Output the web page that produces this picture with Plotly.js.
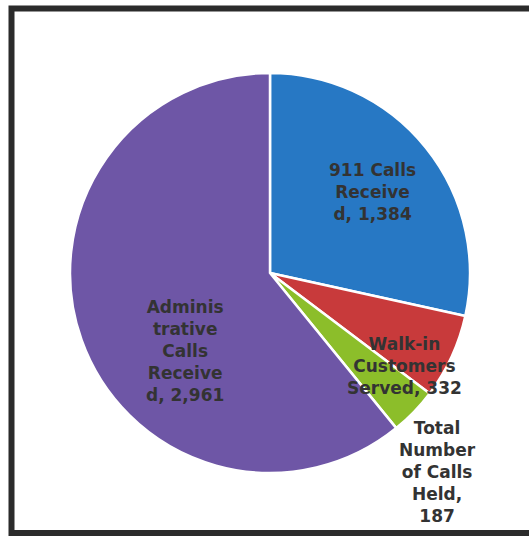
<!DOCTYPE html>
<html><head><meta charset="utf-8">
<script src="https://cdn.plot.ly/plotly-3.0.1.min.js"></script>
<style>html,body{margin:0;padding:0;background:#fff}</style>
</head><body>
<div id="chart" style="width:529px;height:537px"></div>
<script>
const categories = ["911 Calls Received", "Walk-in Customers Served", "Total Number of Calls Held", "Administrative Calls Received"];
const values = [1384, 332, 187, 2961];
const labelLines = [
  ["911 Calls", "Receive", "d, {v}"],
  ["Walk-in", "Customers", "Served, {v}"],
  ["Total", "Number", "of Calls", "Held,", "{v}"],
  ["Adminis", "trative", "Calls", "Receive", "d, {v}"]
];
const colors = ["#2778C4", "#C83A3B", "#8CBE2A", "#6E56A6"];

const W = 529, H = 537;
const labelPos = [[372, 192], [404, 366], [437, 472], [185, 351]];

const fmt = v => v.toLocaleString("en-US");
const annotations = categories.map((c, i) => ({
  xref: "paper", yref: "paper",
  x: labelPos[i][0] / W, y: 1 - labelPos[i][1] / H,
  xanchor: "center", yanchor: "middle",
  text: labelLines[i].map(s => s.replace("{v}", fmt(values[i]))).join("<br>"),
  showarrow: false,
  font: {family: "DejaVu Sans", size: 17, color: "#333333", weight: "bold"},
  align: "center"
}));

const cx = 270, cy = 273, r = 200;
const trace = {
  type: "pie",
  labels: categories,
  values: values,
  sort: false,
  direction: "clockwise",
  rotation: 0,
  textinfo: "none",
  hoverinfo: "label+value",
  marker: {colors: colors, line: {color: "#ffffff", width: 2.5}},
  domain: {x: [(cx - r) / W, (cx + r) / W], y: [1 - (cy + r) / H, 1 - (cy - r) / H]},
  showlegend: false
};

const layout = {
  width: W, height: H,
  margin: {l: 0, r: 0, t: 0, b: 0},
  paper_bgcolor: "#ffffff",
  showlegend: false,
  annotations: annotations,
  shapes: [{
    type: "rect", xref: "paper", yref: "paper",
    x0: 11.5 / W, x1: 1.05, y0: 1 - 533 / H, y1: 1 - 8.5 / H,
    line: {color: "#2b2b2b", width: 6}, fillcolor: "rgba(0,0,0,0)"
  }]
};
Plotly.newPlot("chart", [trace], layout, {displayModeBar: false, staticPlot: true});
</script>
</body></html>
